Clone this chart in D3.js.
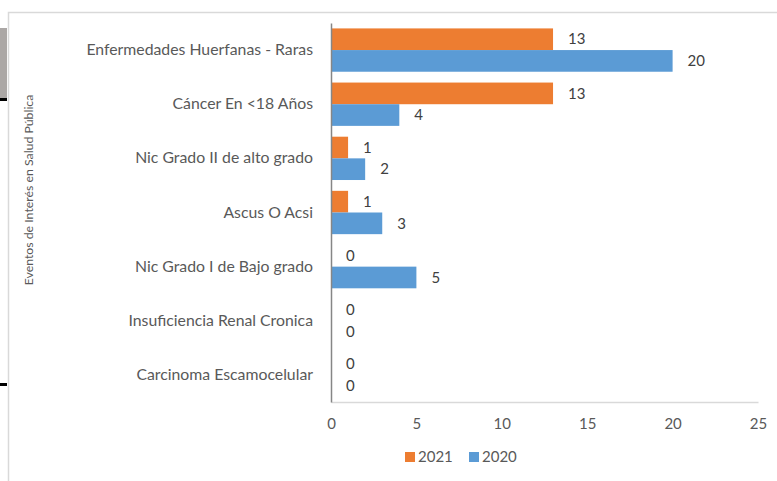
<!DOCTYPE html>
<html>
<head>
<meta charset="utf-8">
<script src="https://cdn.jsdelivr.net/npm/d3@7"></script>
<style>
  html, body { margin: 0; padding: 0; background: #fff; }
  svg { display: block; }
</style>
</head>
<body>
<svg width="777" height="481"></svg>
<script>
var categories = [
  "Enfermedades Huerfanas - Raras",
  "Cáncer En <18 Años",
  "Nic Grado II de alto grado",
  "Ascus O Acsi",
  "Nic Grado I de Bajo grado",
  "Insuficiencia Renal Cronica",
  "Carcinoma Escamocelular"
];
var values2021 = [13, 13, 1, 1, 0, 0, 0];
var values2020 = [20, 4, 2, 3, 5, 0, 0];
var seriesNames = ["2021", "2020"];
var xTicks = [0, 5, 10, 15, 20, 25];

(function() {
  'use strict';
  var svg = d3.select("svg"),
      font = "Lato, 'Open Sans', sans-serif",
      colors = {"2021": "#ED7D31", "2020": "#5B9BD5"},
      textColor = "#595959",
      left = 331, right = 758, top = 23, bottom = 402;

  // page leftovers and frame
  svg.append("rect").attr("x", 0).attr("y", 28).attr("width", 7).attr("height", 71).attr("fill", "#aba7a5");
  svg.append("rect").attr("x", 0).attr("y", 98).attr("width", 7).attr("height", 3).attr("fill", "#000");
  svg.append("rect").attr("x", 0).attr("y", 383).attr("width", 7).attr("height", 3).attr("fill", "#000");
  svg.append("path").attr("d", "M8.5,481V12.5H777").attr("fill", "none").attr("stroke", "#d9d9d9").attr("stroke-width", 1.5);

  var x = d3.scaleLinear().domain([0, 25]).range([left, right]),
      y = d3.scaleBand().domain(categories).range([top, bottom]).paddingInner(0.2).paddingOuter(0.1),
      ys = d3.scaleBand().domain(seriesNames).range([0, y.bandwidth()]);

  var rows = categories.map(function(c, i) {
    return {cat: c, vals: [{s: "2021", v: values2021[i]}, {s: "2020", v: values2020[i]}]};
  });

  var g = svg.append("g").selectAll("g").data(rows).join("g")
      .attr("transform", function(d) { return "translate(0," + y(d.cat) + ")"; });

  g.selectAll("rect").data(function(d) { return d.vals; }).join("rect")
      .attr("x", x(0))
      .attr("y", function(d) { return ys(d.s); })
      .attr("width", function(d) { return x(d.v) - x(0); })
      .attr("height", ys.bandwidth())
      .attr("fill", function(d) { return colors[d.s]; });

  g.selectAll("text").data(function(d) { return d.vals; }).join("text")
      .attr("x", function(d) { return x(d.v) + 15; })
      .attr("y", function(d) { return ys(d.s) + ys.bandwidth() / 2; })
      .attr("dy", "0.35em")
      .attr("font-family", font).attr("font-size", 15).attr("fill", "#404040")
      .text(function(d) { return d.v; });

  // x axis
  var xa = svg.append("g").attr("transform", "translate(0," + bottom + ")")
      .call(d3.axisBottom(x).tickValues(xTicks).tickSize(0).tickPadding(16));
  xa.select(".domain").attr("stroke", "#d9d9d9").attr("stroke-width", 1.5);
  xa.selectAll("text").attr("font-family", font).attr("font-size", 15).attr("fill", textColor);

  // y axis
  var ya = svg.append("g").attr("transform", "translate(" + left + ",0)")
      .call(d3.axisLeft(y).tickSize(0).tickPadding(18));
  ya.select(".domain").attr("stroke", "#868686").attr("stroke-width", 1.5);
  ya.selectAll("text").attr("font-family", font).attr("font-size", 15.8).attr("fill", textColor);

  svg.append("text")
      .attr("transform", "translate(33,190) rotate(-90)")
      .attr("text-anchor", "middle")
      .attr("font-family", font).attr("font-size", 12.3).attr("fill", textColor)
      .text("Eventos de Interés en Salud Pública");

  // legend
  var lg = svg.append("g").selectAll("g").data(seriesNames).join("g")
      .attr("transform", function(d, i) { return "translate(" + (405 + i * 64) + ",452)"; });
  lg.append("rect").attr("width", 10).attr("height", 10).attr("fill", function(d) { return colors[d]; });
  lg.append("text").attr("x", 13).attr("y", 5).attr("dy", "0.35em")
      .attr("font-family", font).attr("font-size", 15).attr("fill", textColor)
      .text(function(d) { return d; });
})();
</script>
</body>
</html>
